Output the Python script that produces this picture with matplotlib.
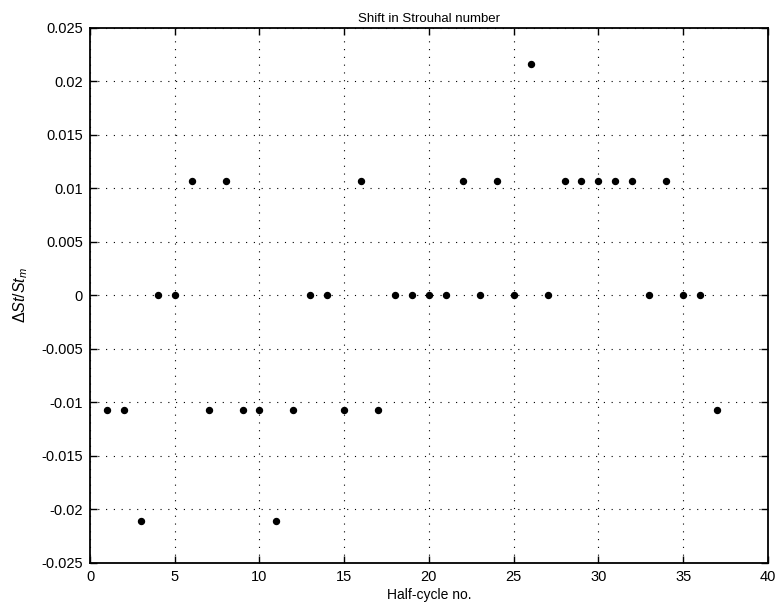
import matplotlib
matplotlib.use("Agg")
from matplotlib import pyplot as plt

# Half-cycle numbers and relative Strouhal shift
half_cycle = list(range(1, 38))
shift = [-0.0107, -0.0107, -0.0211, 0, 0, 0.0107, -0.0107, 0.0107, -0.0107, -0.0107,
         -0.0211, -0.0107, 0, 0, -0.0107, 0.0107, -0.0107, 0, 0, 0,
         0, 0.0107, 0, 0.0107, 0, 0.0216, 0, 0.0107, 0.0107, 0.0107,
         0.0107, 0.0107, 0, 0.0107, 0, 0, -0.0107]

x_ticks = [0, 5, 10, 15, 20, 25, 30, 35, 40]
y_ticks = [-0.025, -0.02, -0.015, -0.01, -0.005, 0, 0.005, 0.01, 0.015, 0.02, 0.025]
y_labels = ['-0.025', '-0.02', '-0.015', '-0.01', '-0.005', '0',
            '0.005', '0.01', '0.015', '0.02', '0.025']

plt.rcParams['font.family'] = ['Liberation Sans', 'DejaVu Sans']
plt.rcParams['mathtext.fontset'] = 'custom'
plt.rcParams['mathtext.rm'] = 'Liberation Sans'
plt.rcParams['mathtext.it'] = 'Liberation Sans:italic'

fig = plt.figure(figsize=(7.76, 6.06), dpi=100)
ax = fig.add_axes([0.116, 0.071, 0.8735, 0.883])

ax.plot(half_cycle, shift, 'o', color='black', markersize=4.3, linestyle='none', zorder=3)

ax.set_xlim(0, 40)
ax.set_ylim(-0.025, 0.025)
ax.set_xticks(x_ticks)
ax.set_yticks(y_ticks)
ax.set_yticklabels(y_labels)
ax.tick_params(direction='in', length=5, width=1, labelsize=10.5, top=True, right=True,
               labeltop=False, labelright=False, pad=5)
ax.grid(True, color='black', linestyle=(0, (1, 6)), linewidth=0.8)
for s in ax.spines.values():
    s.set_linewidth(1.3)

ax.set_title('Shift in Strouhal number', fontsize=9.5, pad=4)
ax.set_xlabel('Half-cycle no.', fontsize=10, labelpad=3)
ax.set_ylabel(r'$\Delta\mathit{St}/\mathit{St}_m$', fontsize=11.5, labelpad=8)

fig.savefig('out.png', dpi=100)
